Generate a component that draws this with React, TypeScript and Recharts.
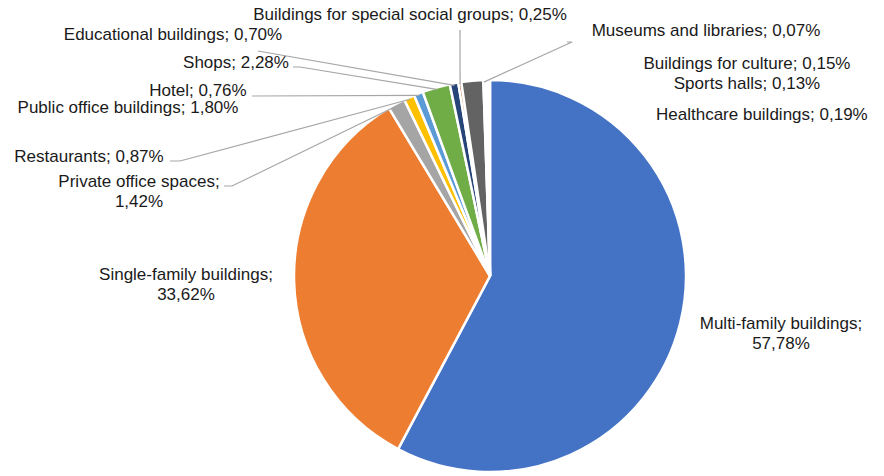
import React from "react";
import { Cell, Pie, PieChart } from "recharts";

const categories = [
  "Multi-family buildings",
  "Single-family buildings",
  "Private office spaces",
  "Restaurants",
  "Hotel",
  "Shops",
  "Educational buildings",
  "Buildings for special social groups",
  "Public office buildings",
  "Museums and libraries",
  "Buildings for culture",
  "Sports halls",
  "Healthcare buildings",
];

const shares = [57.78, 33.62, 1.42, 0.87, 0.76, 2.28, 0.7, 0.25, 1.8, 0.07, 0.15, 0.13, 0.19];

const sliceColors = [
  "#4472C4",
  "#ED7D31",
  "#A5A5A5",
  "#FFC000",
  "#5B9BD5",
  "#70AD47",
  "#264478",
  "#9E480E",
  "#636363",
  "#997300",
  "#255E91",
  "#43682B",
  "#698ED0",
];

const data = categories.map((name, i) => ({ name, value: shares[i] }));

// label placement (Excel-style manual positions); split = name and value on two lines
type LabelPos = {
  x: number;
  y: number;
  anchor?: "start" | "middle" | "end";
  split?: boolean;
  leader?: [number, number][];
};

const labelLayout: LabelPos[] = [
  { x: 781, y: 323, split: true },
  { x: 186, y: 274, split: true },
  { x: 139, y: 181, split: true, leader: [[224, 186], [232, 186]] },
  { x: 89, y: 156, leader: [[170, 161], [180, 161]] },
  { x: 198, y: 90, leader: [[252, 96]] },
  { x: 236, y: 62, leader: [[293, 67], [300, 67]] },
  { x: 173, y: 34, leader: [[258, 51]] },
  { x: 410, y: 14, leader: [[460, 30]] },
  { x: 128, y: 107 },
  { x: 706, y: 30, leader: [[567, 42], [572, 42]] },
  { x: 747, y: 63 },
  { x: 747, y: 83 },
  { x: 656, y: 114, anchor: "start" },
];

const RAD = Math.PI / 180;
const fmt = (v: number) => v.toFixed(2).replace(".", ",") + "%";

function renderLabel(props: any) {
  const { cx, cy, midAngle, outerRadius, index } = props;
  const pos = labelLayout[index];
  if (!pos) return null;
  const name = categories[index];
  const val = fmt(shares[index]);
  let line = null;
  if (pos.leader) {
    const r = outerRadius - 2;
    const ex = cx + r * Math.cos(-midAngle * RAD);
    const ey = cy + r * Math.sin(-midAngle * RAD);
    const pts = [...pos.leader, [ex, ey]].map((p) => p.join(",")).join(" ");
    line = <polyline points={pts} fill="none" stroke="#A6A6A6" strokeWidth={1.2} />;
  }
  const common = {
    fill: "#1a1a1a",
    fontSize: 17,
    fontFamily: "'Liberation Sans', Arial, sans-serif",
    textAnchor: pos.anchor ?? "middle",
    dominantBaseline: "central" as const,
  };
  return (
    <g key={`lbl-${index}`}>
      {line}
      {pos.split ? (
        <>
          <text x={pos.x} y={pos.y} {...common}>
            {name};
          </text>
          <text x={pos.x} y={pos.y + 20} {...common}>
            {val}
          </text>
        </>
      ) : (
        <text x={pos.x} y={pos.y} {...common}>
          {name}; {val}
        </text>
      )}
    </g>
  );
}

export default function App() {
  return (
    <div style={{ position: "absolute", left: 0, top: 0, width: 884, height: 476, background: "#fff" }}>
      <PieChart width={884} height={476} margin={{ top: 0, right: 0, bottom: 0, left: 0 }}>
        <Pie
          data={data}
          dataKey="value"
          nameKey="name"
          cx={490}
          cy={276}
          outerRadius={196}
          startAngle={90}
          endAngle={-270}
          stroke="#fff"
          strokeWidth={2.5}
          label={renderLabel}
          labelLine={false}
          isAnimationActive={false}
        >
          {data.map((d, i) => (
            <Cell key={d.name} fill={sliceColors[i]} />
          ))}
        </Pie>
      </PieChart>
    </div>
  );
}
